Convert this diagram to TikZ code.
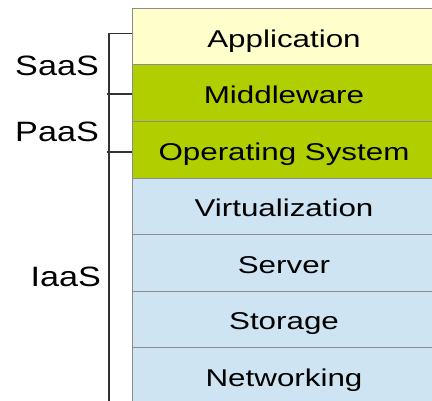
\documentclass[tikz,border=0pt]{standalone}
\usepackage{fontspec}
\setmainfont[FakeStretch=1.29]{Liberation Sans}
\newfontfamily\labfont[FakeStretch=1.22]{Liberation Sans}
\definecolor{appc}{RGB}{255,255,204}
\definecolor{midc}{RGB}{176,206,0}
\definecolor{infc}{RGB}{206,228,242}
\definecolor{edgec}{RGB}{140,140,140}
\definecolor{brk}{RGB}{50,50,50}
\begin{document}
\begin{tikzpicture}[x=1pt,y=-1pt,
  layer/.style={draw=edgec, line width=1pt, minimum width=304pt, minimum height=56.6pt,
    inner sep=0pt, text height=20.8pt, text depth=0pt, anchor=north west,
    font=\fontsize{24.3}{26}\selectfont},
  svc/.style={anchor=base east, inner sep=0pt, font=\labfont\fontsize{28}{30}\selectfont},
  bracket/.style={draw=brk, line width=1.1pt}]
\useasboundingbox (0,0) rectangle (432,401);
\node[layer, fill=appc] (app) at (131.5,8.3) {Application};
\node[layer, fill=midc] (mid) at (131.5,64.3) {Middleware};
\node[layer, fill=midc] (os) at (131.5,121) {Operating System};
\node[layer, fill=infc] (virt) at (131.5,177.7) {Virtualization};
\node[layer, fill=infc] (srv) at (131.5,234) {Server};
\node[layer, fill=infc] (sto) at (131.5,290.7) {Storage};
\node[layer, fill=infc] (net) at (131.5,347) {Networking};
\node[svc] (saas) at (99,76) {SaaS};
\node[svc] (paas) at (99,141.7) {PaaS};
\node[svc] (iaas) at (101,286.7) {IaaS};
\coordinate (b0) at (109,33.3);
\coordinate (bend) at (109,405);
\coordinate (b1) at (107,94);
\coordinate (b2) at (107,152);
\draw[bracket] (b0 -| app.west) -- (b0) -- (bend);
\draw[bracket] (b1) -- (b1 -| mid.west);
\draw[bracket] (b2) -- (b2 -| os.west);
\end{tikzpicture}
\end{document}
